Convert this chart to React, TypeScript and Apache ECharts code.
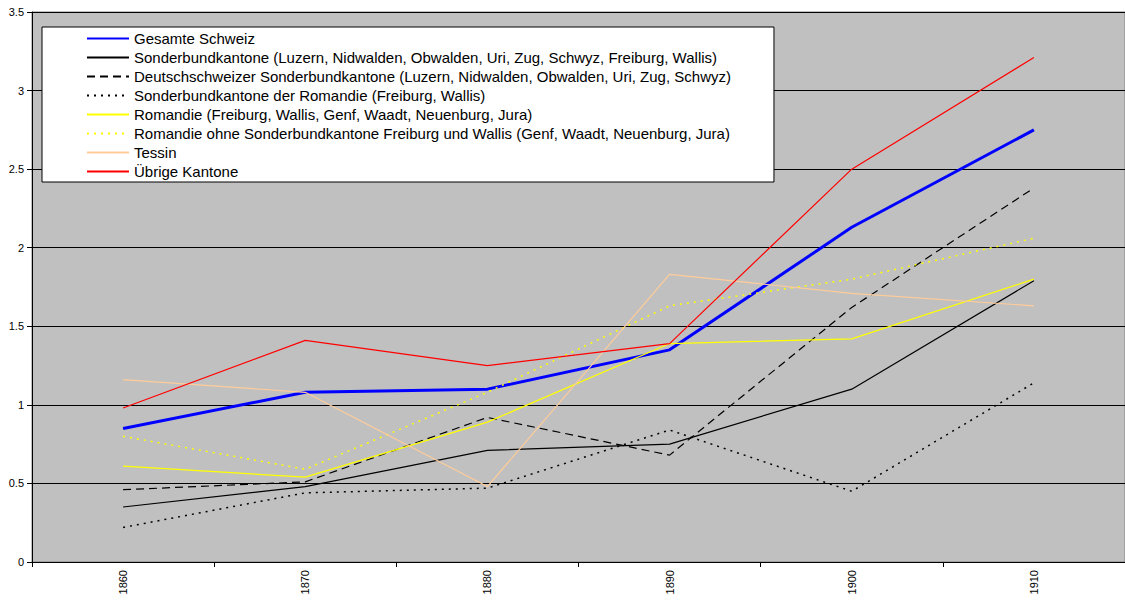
import React, { useEffect, useRef } from "react";
import * as echarts from "echarts";

const years = ["1860", "1870", "1880", "1890", "1900", "1910"];
const gesamt = [0.85, 1.08, 1.1, 1.35, 2.13, 2.75];
const sonderbund = [0.35, 0.48, 0.71, 0.75, 1.1, 1.79];
const deutschSB = [0.46, 0.51, 0.92, 0.68, 1.62, 2.38];
const romandieSB = [0.22, 0.44, 0.47, 0.84, 0.45, 1.14];
const romandie = [0.61, 0.54, 0.89, 1.39, 1.42, 1.8];
const romandieOhne = [0.8, 0.59, 1.08, 1.63, 1.8, 2.06];
const tessin = [1.16, 1.08, 0.48, 1.83, 1.71, 1.63];
const uebrige = [0.98, 1.41, 1.25, 1.39, 2.5, 3.21];

const seriesDefs = [
  { name: "Gesamte Schweiz", data: gesamt, color: "#0000ff", width: 3, type: "solid" },
  { name: "Sonderbundkantone (Luzern, Nidwalden, Obwalden, Uri, Zug, Schwyz, Freiburg, Wallis)", data: sonderbund, color: "#000000", width: 1.2, type: "solid" },
  { name: "Deutschschweizer Sonderbundkantone (Luzern, Nidwalden, Obwalden, Uri, Zug, Schwyz)", data: deutschSB, color: "#000000", width: 1.2, type: [8, 5] },
  { name: "Sonderbundkantone der Romandie (Freiburg, Wallis)", data: romandieSB, color: "#000000", width: 1.5, type: [2, 5] },
  { name: "Romandie (Freiburg, Wallis, Genf, Waadt, Neuenburg, Jura)", data: romandie, color: "#ffff00", width: 1.2, type: "solid" },
  { name: "Romandie ohne Sonderbundkantone Freiburg und Wallis (Genf, Waadt, Neuenburg, Jura)", data: romandieOhne, color: "#ffff00", width: 1.5, type: [2, 5] },
  { name: "Tessin", data: tessin, color: "#ffcc99", width: 1.2, type: "solid" },
  { name: "Übrige Kantone", data: uebrige, color: "#ff0000", width: 1.2, type: "solid" },
];

export default function App() {
  const ref = useRef<HTMLDivElement>(null);
  useEffect(() => {
    const chart = echarts.init(ref.current!, null, { renderer: "svg" });
    chart.setOption({
      animation: false,
      textStyle: { fontFamily: "Liberation Sans, Arial, sans-serif" },
      grid: {
        left: 32, right: -8, top: 12, bottom: 39, show: true,
        backgroundColor: "#c0c0c0", borderColor: "#808080", borderWidth: 1,
      },
      legend: {
        orient: "vertical", left: 42, top: 27,
        backgroundColor: "#ffffff", borderColor: "#000000", borderWidth: 1,
        padding: [4, 43, 3, 44], itemGap: 4, itemWidth: 42, itemHeight: 14,
        itemStyle: { opacity: 0 },
        textStyle: { fontSize: 15, lineHeight: 14, color: "#000", fontFamily: "Liberation Sans, Arial, sans-serif" },
        data: seriesDefs.map((s) => s.name),
      },
      xAxis: {
        type: "category", data: years, boundaryGap: true,
        axisLine: { lineStyle: { color: "#000" } },
        axisTick: { show: true, lineStyle: { color: "#000" } },
        axisLabel: { rotate: 90, fontSize: 11, color: "#000" },
      },
      yAxis: {
        type: "value", min: 0, max: 3.5, interval: 0.5,
        axisLine: { show: true, lineStyle: { color: "#000" } },
        axisTick: { show: true, lineStyle: { color: "#000" } },
        axisLabel: { fontSize: 11, color: "#000" },
        splitLine: { lineStyle: { color: "#000", width: 1 } },
      },
      series: seriesDefs.map((s) => ({
        name: s.name, type: "line", data: s.data, symbol: "none",
        color: s.color,
        lineStyle: { color: s.color, width: s.width, type: s.type },
      })),
    });
    return () => chart.dispose();
  }, []);
  return <div ref={ref} style={{ width: 1125, height: 601, position: "absolute", left: 0, top: 0 }} />;
}
